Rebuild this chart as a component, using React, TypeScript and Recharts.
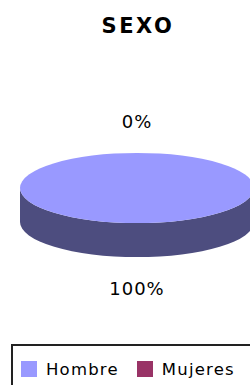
import React from 'react';
import { PieChart, Pie, Legend } from 'recharts';

const categories = ['Hombre', 'Mujeres'];
const values = [100, 0];
const topColors = ['#9999FF', '#993366'];
const sideColors = ['#4D4D7F', '#4D1A33'];

const data = categories.map((name, i) => ({
  name,
  value: values[i],
  fill: topColors[i],
  side: sideColors[i],
}));

const CX = 137;
const CY = 188;
const RX = 117;
const TILT = 0.3;
const DEPTH = 34;
const FONT = '"DejaVu Sans", Verdana, sans-serif';

const pt = (cx: number, cy: number, rx: number, ry: number, a: number) => {
  const r = (a * Math.PI) / 180;
  return [cx + rx * Math.cos(r), cy - ry * Math.sin(r)];
};

// one slice drawn as a flat 3d disc piece
const Slice3D = (props: any) => {
  const { cx, cy, outerRadius, startAngle, endAngle, payload } = props;
  const fill = payload?.fill ?? props.fill;
  const side = payload?.side ?? '#444';
  const rx = outerRadius;
  const ry = outerRadius * TILT;
  const lo = Math.min(startAngle, endAngle);
  const hi = Math.max(startAngle, endAngle);
  if (hi - lo < 0.01) return null;

  // front wall: parts of the slice in the lower half (180..360)
  const walls: React.ReactNode[] = [];
  for (let k = -2; k <= 1; k++) {
    const a = Math.max(lo, 180 + 360 * k);
    const b = Math.min(hi, 360 + 360 * k);
    if (b <= a) continue;
    const [x1, y1] = pt(cx, cy, rx, ry, a);
    const [x2, y2] = pt(cx, cy, rx, ry, b);
    const large = b - a > 180 ? 1 : 0;
    const d = `M${x1},${y1} A${rx},${ry} 0 ${large} 0 ${x2},${y2} L${x2},${y2 + DEPTH} A${rx},${ry} 0 ${large} 1 ${x1},${y1 + DEPTH} Z`;
    walls.push(<path key={k} d={d} fill={side} />);
  }

  let top;
  if (hi - lo >= 359.99) {
    top = <ellipse cx={cx} cy={cy} rx={rx} ry={ry} fill={fill} />;
  } else {
    const [x1, y1] = pt(cx, cy, rx, ry, hi);
    const [x2, y2] = pt(cx, cy, rx, ry, lo);
    const large = hi - lo > 180 ? 1 : 0;
    top = <path d={`M${cx},${cy} L${x1},${y1} A${rx},${ry} 0 ${large} 1 ${x2},${y2} Z`} fill={fill} />;
  }

  return (
    <g>
      {walls}
      {top}
    </g>
  );
};

const renderLabel = (props: any) => {
  const { cx, cy, midAngle, outerRadius, percent } = props;
  const off = 31;
  const s = Math.sin((midAngle * Math.PI) / 180);
  const [x, y0] = pt(cx, cy, outerRadius + off, outerRadius * TILT + off, midAngle);
  const y = s < 0 ? y0 + DEPTH : y0;
  return (
    <text
      x={x}
      y={y}
      textAnchor="middle"
      dominantBaseline="central"
      fontFamily={FONT}
      fontSize={18}
      letterSpacing={1}
      fill="#000"
    >
      {`${Math.round(percent * 100)}%`}
    </text>
  );
};

const LegendBox = ({ payload }: any) => (
  <div style={{ display: 'flex', alignItems: 'center', height: '100%', paddingLeft: 8 }}>
    {(payload || []).map((entry: any, i: number) => (
      <div key={i} style={{ display: 'flex', alignItems: 'center', marginRight: 18 }}>
        <span style={{ width: 16, height: 16, background: entry.payload?.fill ?? entry.color, marginRight: 9 }} />
        <span style={{ fontFamily: FONT, fontSize: 16.5, letterSpacing: 1.2, color: '#000' }}>{entry.value}</span>
      </div>
    ))}
  </div>
);

export default function App() {
  return (
    <div style={{ position: 'absolute', left: 0, top: 0, width: 250, height: 385, overflow: 'hidden', background: '#fff' }}>
      <div
        style={{
          position: 'absolute',
          top: 14,
          left: 0,
          width: 276,
          textAlign: 'center',
          fontFamily: FONT,
          fontWeight: 'bold',
          fontSize: 21,
          letterSpacing: 2.5,
          color: '#000',
          zIndex: 2,
        }}
      >
        SEXO
      </div>
      <PieChart width={250} height={385} margin={{ top: 0, right: 0, bottom: 0, left: 0 }}>
        <Pie
          data={data}
          dataKey="value"
          nameKey="name"
          cx={CX}
          cy={CY}
          outerRadius={RX}
          startAngle={90}
          endAngle={-270}
          stroke="none"
          labelLine={false}
          label={renderLabel}
          shape={Slice3D}
          isAnimationActive={false}
        />
        <Legend
          content={<LegendBox />}
          wrapperStyle={{
            position: 'absolute',
            left: 11,
            top: 344,
            width: 270,
            height: 50,
            border: '2px solid #222',
            boxSizing: 'border-box',
            background: '#fff',
          }}
        />
      </PieChart>
    </div>
  );
}
